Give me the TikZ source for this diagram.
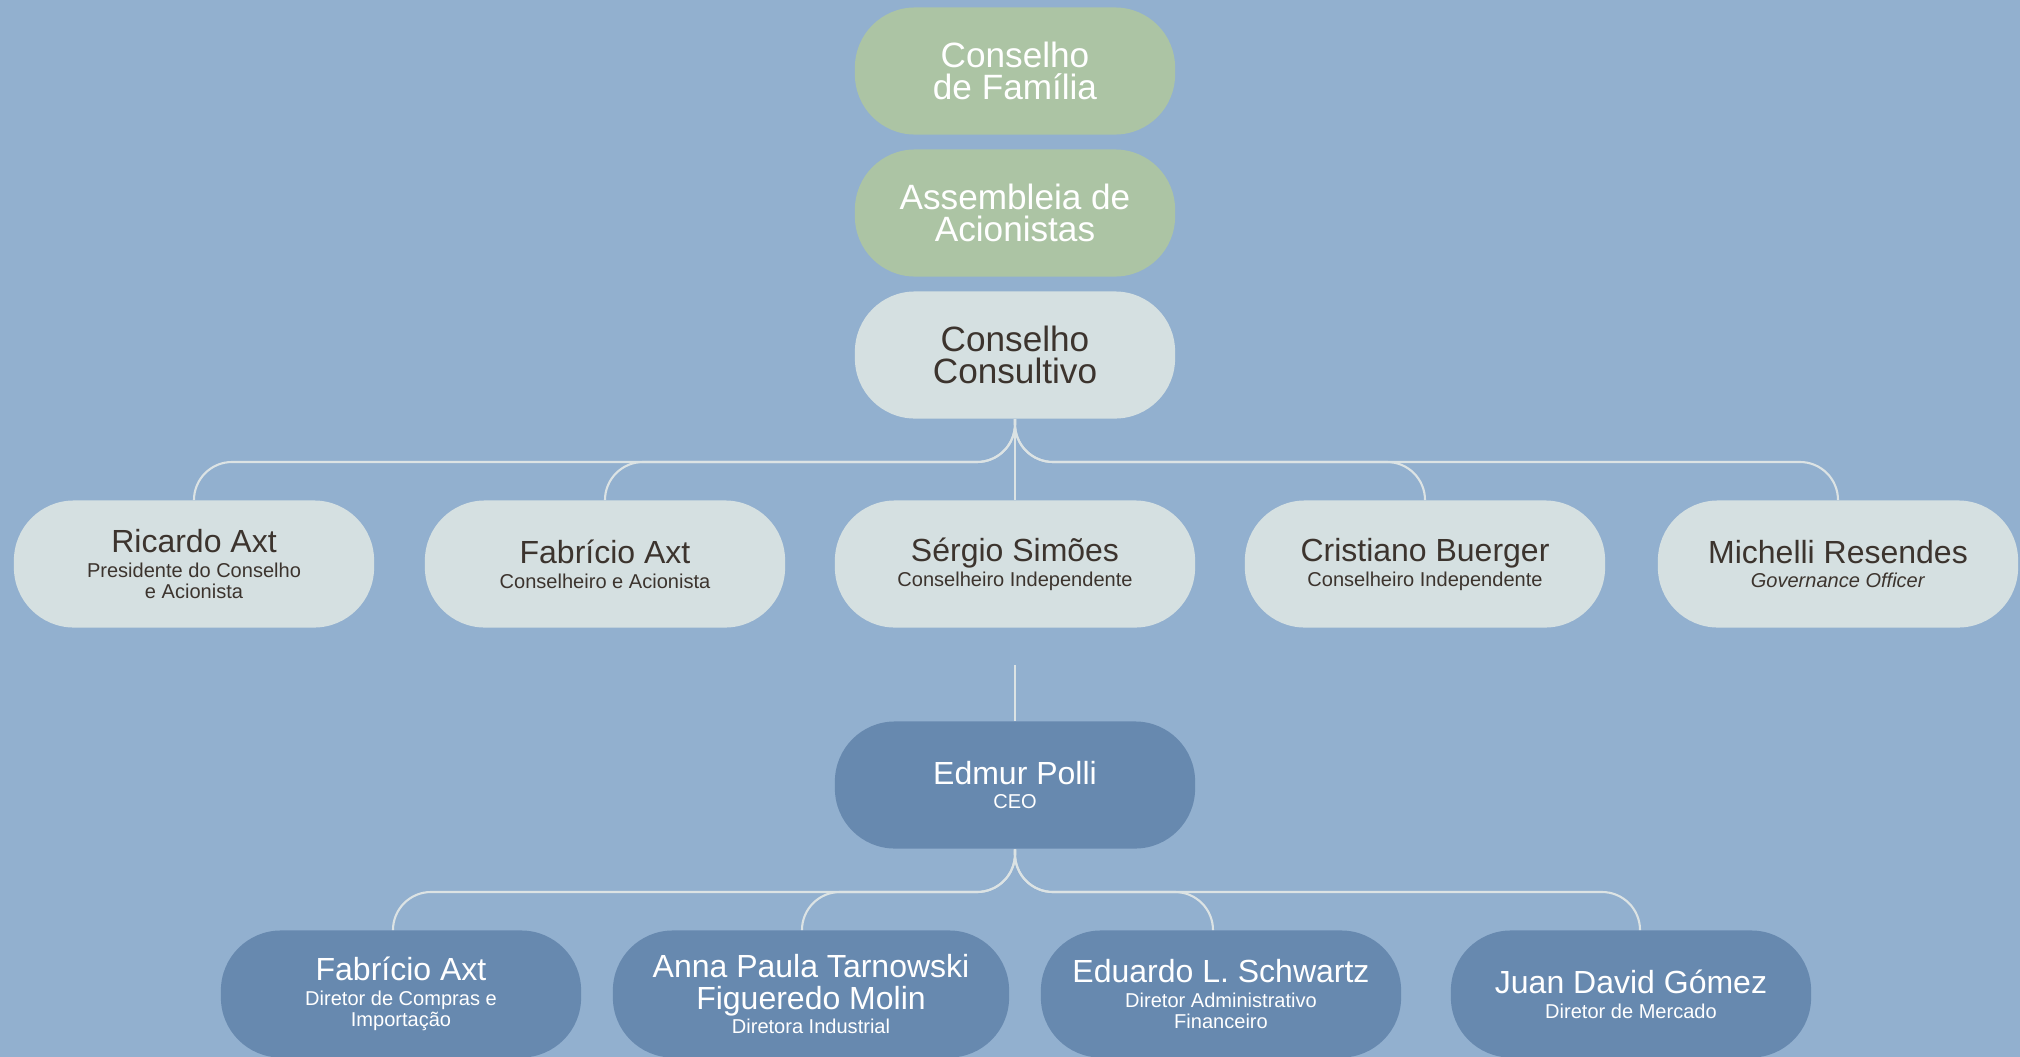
\documentclass[tikz,border=0pt]{standalone}
\usepackage{fontspec}
\setmainfont{Liberation Sans}
\definecolor{fundo}{HTML}{92B0CF}
\definecolor{verde}{HTML}{ACC4A4}
\definecolor{claro}{HTML}{D5E0E1}
\definecolor{azul}{HTML}{6789AF}
\definecolor{escuro}{HTML}{3C342E}
\definecolor{linha}{HTML}{DCE3E4}
\newcommand{\fonteTopo}{\fontsize{10}{9.1}\selectfont}
\newcommand{\fonteNome}{\fontsize{9.1}{9.1}\selectfont}
\newcommand{\fonteCargo}{\fontsize{5.7}{6}\selectfont\lineskiplimit=-20pt}
\newcommand{\nome}[1]{{\fonteNome #1}}
\tikzset{
  caixa/.style={rounded corners=0.6cm, minimum width=3.6cm, minimum height=1.27cm,
    align=center, inner sep=0pt, font=\fonteCargo},
  topo/.style={caixa, minimum width=3.2cm, font=\fonteTopo, fill=verde, text=white},
  conselheiro/.style={caixa, fill=claro, text=escuro},
  diretor/.style={caixa, fill=azul, text=white},
  ligacao/.style={draw=linha, line width=0.6pt}
}
\begin{document}
\begin{tikzpicture}[x=0.01cm, y=-0.01cm]
  \useasboundingbox (0,0) rectangle (2020,1057);
  \fill[fundo] (0,0) rectangle (2020,1057);
  % orgaos de topo
  \node[topo] (familia) at (1015,71) {Conselho\\de Família};
  \node[topo] (assembleia) at (1015,213) {Assembleia de\\Acionistas};
  \node[topo, fill=claro, text=escuro] (consultivo) at (1015,355) {Conselho\\Consultivo};
  % conselho
  \node[conselheiro] (ricardo) at (194,564) {\nome{Ricardo Axt}\\[1.1pt]Presidente do Conselho\\e Acionista};
  \node[conselheiro] (fabricio) at (605,564) {\nome{Fabrício Axt}\\[1.1pt]Conselheiro e Acionista};
  \node[conselheiro] (sergio) at (1015,564) {\nome{Sérgio Simões}\\[1.1pt]Conselheiro Independente};
  \node[conselheiro] (cristiano) at (1425,564) {\nome{Cristiano Buerger}\\[1.1pt]Conselheiro Independente};
  \node[conselheiro] (michelli) at (1838,564) {\nome{Michelli Resendes}\\[1.1pt]\textit{Governance Officer}};
  % diretoria
  \node[diretor] (ceo) at (1015,785) {\nome{Edmur Polli}\\[1.1pt]CEO};
  \node[diretor] (fabricioD) at (401,994) {\nome{Fabrício Axt}\\[1.1pt]Diretor de Compras e\\Importação};
  \node[diretor, minimum width=3.96cm] (anna) at (811,994) {\nome{Anna Paula Tarnowski}\\[3.1pt]\nome{Figueredo Molin}\\[1.1pt]Diretora Industrial};
  \node[diretor] (eduardo) at (1221,994) {\nome{Eduardo L. Schwartz}\\[1.1pt]Diretor Administrativo\\Financeiro};
  \node[diretor] (juan) at (1631,994) {\nome{Juan David Gómez}\\[1.1pt]Diretor de Mercado};
  \coordinate (barraC) at (0,462);
  \coordinate (barraD) at (0,892);
  \coordinate (ceotopo) at (1015,665);
  \begin{scope}[ligacao, rounded corners=0.38cm]
    \foreach \n in {ricardo,fabricio,cristiano,michelli}
      \draw (consultivo.south) |- (\n.north |- barraC) -- (\n.north);
    \draw (consultivo.south) -- (sergio.north);
    \draw (ceotopo) -- (ceo.north);
    \foreach \n/\d in {fabricioD/-0.08,anna/-0.09,eduardo/-0.08,juan/0.09}
      \draw (ceo.south) |- ([xshift=\d cm]\n.north |- barraD) -- ([xshift=\d cm]\n.north);
  \end{scope}
\end{tikzpicture}
\end{document}
